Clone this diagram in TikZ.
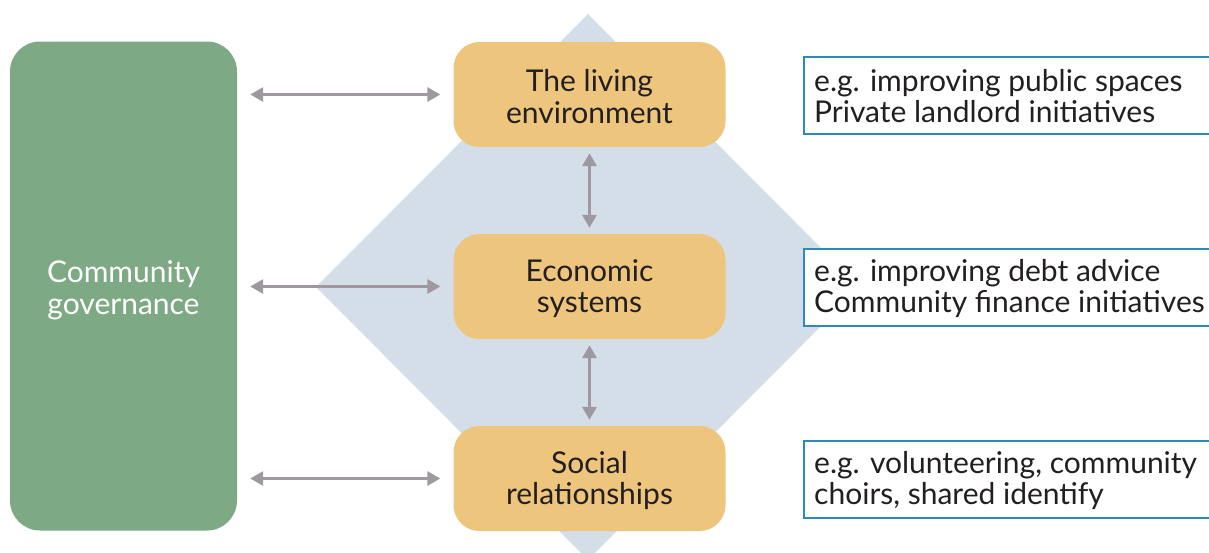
\documentclass[tikz,border=0pt]{standalone}
\usepackage{fontspec}
\setmainfont{Lato}
\usetikzlibrary{arrows.meta,positioning}
\definecolor{govgreen}{HTML}{7EA985}
\definecolor{diamondblue}{HTML}{D3DEE9}
\definecolor{boxorange}{HTML}{EDC57C}
\definecolor{arrowgray}{HTML}{9E98A0}
\definecolor{framblue}{HTML}{2A8BBF}
\definecolor{txtdark}{HTML}{231F20}
\tikzset{
  x=1pt,y=1pt,
  govbox/.style={fill=govgreen,draw=none,rounded corners=30pt,minimum width=227pt,minimum height=489pt,inner sep=0pt},
  govtext/.style={text=white,font=\fontsize{30}{32}\selectfont,align=center,inner sep=0pt,yshift=-4pt},
  areabox/.style={fill=boxorange,draw=none,rounded corners=26pt,minimum width=272pt,minimum height=105pt,inner sep=0pt},
  areatext/.style={text=txtdark,font=\fontsize{30}{31.5}\selectfont,align=center,inner sep=0pt,yshift=-2pt},
  exbox/.style={draw=framblue,line width=2pt,fill=white,minimum width=430pt,minimum height=77pt,anchor=west,inner sep=0pt},
  extext/.style={text=txtdark,font=\fontsize{30}{31}\selectfont,align=left,anchor=west,inner sep=0pt},
  arr/.style={draw=arrowgray,line width=3pt,{Triangle[width=14pt,length=13pt]}-{Triangle[width=14pt,length=13pt]}},
}
\begin{document}
\begin{tikzpicture}
\useasboundingbox (0,0) rectangle (1209,-552);
\begin{scope}
\clip (0,0) rectangle (1209,-552);
% diamond
\fill[diamondblue] (588,-14) -- (860,-287) -- (588,-560) -- (316,-287) -- cycle;
% example boxes
\node[exbox] (ex1) at (803,-95) {};
\node[exbox] (ex2) at (803,-287) {};
\node[exbox] (ex3) at (803,-479) {};
\end{scope}
\node[extext] (t1) at (814,-96.5) {e.g. improving public spaces\\Private landlord initiatives};
\node[extext] (t2) at (814,-288.5) {e.g. improving debt advice\\Community finance initiatives};
\node[extext] (t3) at (814,-480.5) {e.g. volunteering, community\\choirs, shared identify};
% governance
\node[govbox,label={[govtext]center:{Community\\governance}}] (gov) at (123.5,-286) {};
% areas
\node[areabox,label={[areatext]center:{The living\\environment}}] (le) at (589.5,-94.5) {};
\node[areabox,label={[areatext]center:{Economic\\systems}}] (ec) at (589.5,-286.5) {};
\node[areabox,label={[areatext]center:{Social\\relationships}}] (so) at (589.5,-478.5) {};
% arrows
\draw[arr,shorten <=13pt,shorten >=13pt] (gov.east |- le.west) -- (le.west);
\draw[arr,shorten <=13pt,shorten >=13pt] (gov.east |- ec.west) -- (ec.west);
\draw[arr,shorten <=13pt,shorten >=13pt] (gov.east |- so.west) -- (so.west);
\draw[arr,shorten <=6pt,shorten >=6pt] (le.south) -- (ec.north);
\draw[arr,shorten <=6pt,shorten >=6pt] (ec.south) -- (so.north);
\end{tikzpicture}
\end{document}
